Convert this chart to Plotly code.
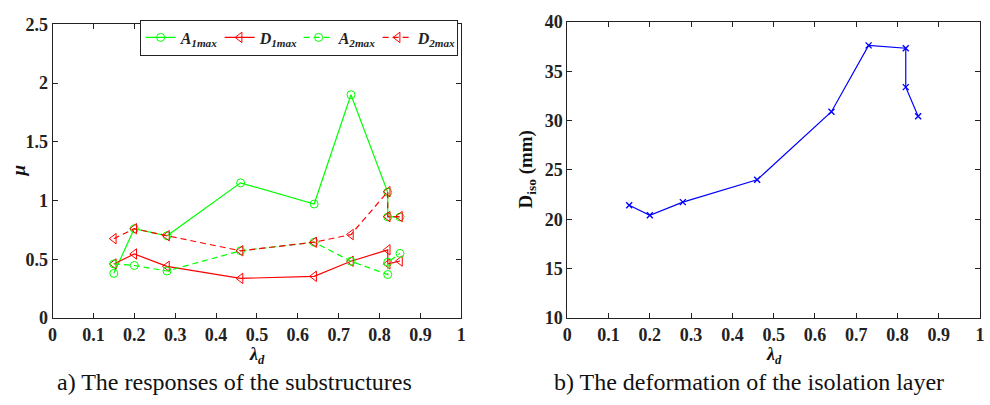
import plotly.graph_objects as go

# ---------------- data ----------------
lam_d = [0.15, 0.20, 0.28, 0.46, 0.64, 0.73, 0.82, 0.82, 0.85]
A1max = [0.38, 0.76, 0.70, 1.15, 0.97, 1.90, 1.07, 0.86, 0.86]
D1max = [0.46, 0.545, 0.44, 0.337, 0.355, 0.483, 0.58, 0.46, 0.485]
A2max = [0.46, 0.447, 0.40, 0.572, 0.645, 0.483, 0.37, 0.475, 0.55]
D2max = [0.675, 0.76, 0.70, 0.572, 0.645, 0.71, 1.075, 0.863, 0.863]
D_iso = [21.43, 20.4, 21.74, 24.0, 30.9, 37.62, 37.33, 33.39, 30.43]

x_ticks = [0, 0.1, 0.2, 0.3, 0.4, 0.5, 0.6, 0.7, 0.8, 0.9, 1]
x_ticktext = ["0", "0.1", "0.2", "0.3", "0.4", "0.5", "0.6", "0.7", "0.8", "0.9", "1"]
mu_ticks = [0, 0.5, 1, 1.5, 2, 2.5]
mu_ticktext = ["0", "0.5", "1", "1.5", "2", "2.5"]
diso_ticks = [10, 15, 20, 25, 30, 35, 40]
diso_ticktext = ["10", "15", "20", "25", "30", "35", "40"]

names = ["<b><i>A</i><sub><i>1max</i></sub></b>",
         "<b><i>D</i><sub><i>1max</i></sub></b>",
         "<b><i>A</i><sub><i>2max</i></sub></b>",
         "<b><i>D</i><sub><i>2max</i></sub></b>"]

SERIF = "Liberation Serif"
GREEN = "#00ff00"
RED = "#ff0000"
BLUE = "#0000ff"

W, H = 990, 405
def px(x):
    return x / W
def py(y):
    return 1 - y / H

fig = go.Figure()

series = [
    (A1max, names[0], GREEN, "solid", "circle-open", 8),
    (D1max, names[1], RED, "solid", "triangle-left-open", 9),
    (A2max, names[2], GREEN, "6px,4px", "circle-open", 8),
    (D2max, names[3], RED, "6px,4px", "triangle-left-open", 9),
]
for ys, nm, col, dash, sym, sz in series:
    fig.add_trace(go.Scatter(
        x=lam_d, y=ys, name=nm, mode="lines+markers",
        line=dict(color=col, width=1.2, dash=dash),
        marker=dict(symbol=sym, size=sz, color=col, line=dict(color=col, width=1)),
        xaxis="x", yaxis="y",
    ))

fig.add_trace(go.Scatter(
    x=lam_d, y=D_iso, mode="lines+markers", showlegend=False,
    line=dict(color=BLUE, width=1.2),
    marker=dict(symbol="x-thin", size=6, color=BLUE, line=dict(color=BLUE, width=1.4)),
    xaxis="x2", yaxis="y2",
))

tickfont = dict(family=SERIF, size=18, color="#222", weight="bold")
common_axis = dict(showgrid=False, zeroline=False, showline=True, mirror="ticks",
                   linecolor="#222", linewidth=1, ticks="inside", ticklen=5,
                   tickcolor="#222", tickfont=tickfont)

fig.update_layout(
    width=W, height=H,
    margin=dict(l=0, r=0, t=0, b=0),
    paper_bgcolor="white", plot_bgcolor="white",
    xaxis=dict(domain=[px(48), px(461)], range=[0, 1], tickvals=x_ticks,
               ticktext=x_ticktext, anchor="y", **common_axis),
    yaxis=dict(domain=[py(324), py(15)], range=[0, 2.5], tickvals=mu_ticks,
               ticktext=mu_ticktext, anchor="x", **common_axis),
    xaxis2=dict(domain=[px(568), px(985)], range=[0, 1], tickvals=x_ticks,
                ticktext=x_ticktext, anchor="y2", **common_axis),
    yaxis2=dict(domain=[py(324), py(12.5)], range=[10, 40], tickvals=diso_ticks,
                ticktext=diso_ticktext, anchor="x2", **common_axis),
    legend=dict(orientation="h", x=px(136), y=py(10), xanchor="left", yanchor="top",
                bordercolor="#222", borderwidth=1, bgcolor="white",
                font=dict(family=SERIF, size=16, color="#222"),
                itemwidth=30, tracegroupgap=0, entrywidth=34, entrywidthmode="pixels"),
    showlegend=True,
)

ann = [
    dict(x=px(254.5), y=py(363), text="<b><i>λ</i><sub><i>d</i></sub></b>", font_size=18),
    dict(x=px(776.5), y=py(363), text="<b><i>λ</i><sub><i>d</i></sub></b>", font_size=18),
    dict(x=px(14), y=py(169), text="<b><i>μ</i></b>", textangle=-90, font_size=19),
    dict(x=px(527), y=py(168), text="<b>D<sub>iso</sub> (mm)</b>", textangle=-90, font_size=19),
    dict(x=px(232), y=py(391), text="a) The responses of the substructures", font_size=24),
    dict(x=px(752), y=py(391), text="b) The deformation of the isolation layer", font_size=24),
]
for a in ann:
    fs = a.pop("font_size")
    fig.add_annotation(xref="paper", yref="paper", showarrow=False,
                       xanchor="center", yanchor="middle",
                       font=dict(family=SERIF, size=fs, color="#111"), **a)

fig.write_html("out.html")
